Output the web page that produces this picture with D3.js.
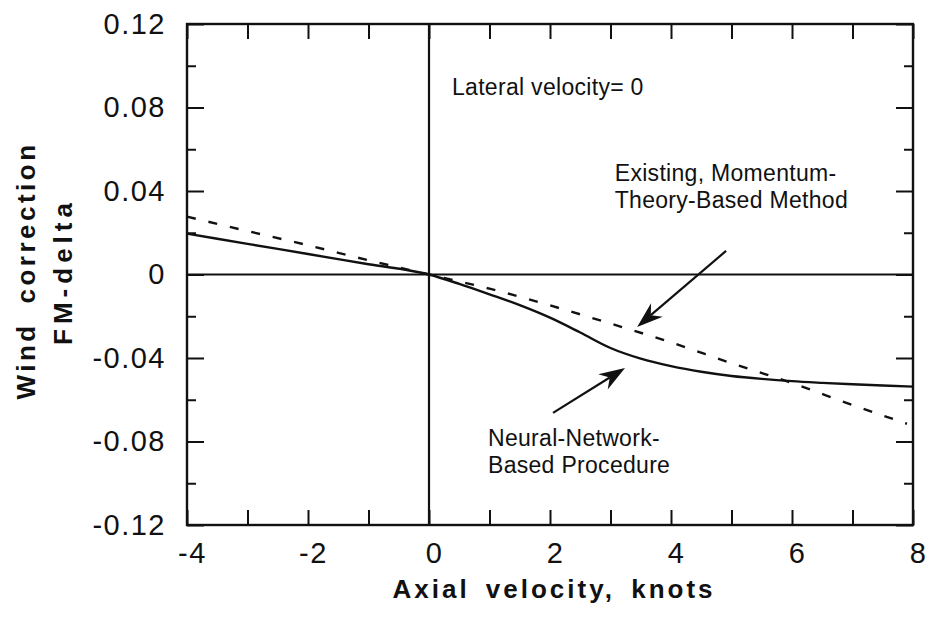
<!DOCTYPE html>
<html>
<head>
<meta charset="utf-8">
<script src="https://cdn.jsdelivr.net/npm/d3@7"></script>
<style>
  html, body { margin: 0; padding: 0; background: #fff; }
  svg { display: block; }
  text { font-family: "Liberation Sans", Arial, Helvetica, sans-serif; fill: #111; }
</style>
</head>
<body>
<svg id="chart" width="928" height="633"></svg>
<script>
// Axial velocity (knots) samples and FM-delta wind correction values
const neuralX = [-4, -3, -2, -1, 0, 0.5, 1, 1.5, 2, 2.5, 3, 3.5, 4, 4.5, 5, 5.5, 6, 6.5, 7, 7.5, 8];
const neuralY = [0.0196, 0.0147, 0.0098, 0.0049, 0, -0.0045, -0.0095, -0.0147, -0.0207, -0.0278, -0.0352, -0.0403, -0.0439, -0.0466, -0.0486, -0.05, -0.0511, -0.0519, -0.0526, -0.0532, -0.0537];

const momentumX = [-4, -3, -2, -1, 0, 1, 2, 3, 4, 5, 6, 7, 7.9];
const momentumY = [0.0277, 0.0208, 0.014, 0.0068, 0, -0.0068, -0.0148, -0.0235, -0.0325, -0.0425, -0.052, -0.0625, -0.0715];

// Axis ticks
const xTickLabels = [-4, -2, 0, 2, 4, 6, 8];
const xMinorTicks = [-3, -1, 1, 3, 5, 7];
const yTickLabels = [0.12, 0.08, 0.04, 0, -0.04, -0.08, -0.12];
const yMinorTicks = [0.1, 0.06, 0.02, -0.02, -0.06, -0.1];

// Annotations (data coordinates)
const notes = [
  { x: 0.38, y: 0.086, lines: ["Lateral velocity= 0"] },
  { x: 3.07, y: 0.0448, lines: ["Existing, Momentum-", "Theory-Based Method"] },
  { x: 0.975, y: -0.0822, lines: ["Neural-Network-", "Based Procedure"] }
];
const arrows = [
  { x1: 4.91, y1: 0.0113, x2: 3.44, y2: -0.0251 },
  { x1: 2.05, y1: -0.0663, x2: 3.24, y2: -0.0448 }
];

const svg = d3.select("#chart");
const plotL = 187, plotR = 913, plotT = 24, plotB = 525;

const x = d3.scaleLinear().domain([-4, 8]).range([plotL, plotR]);
const y = d3.scaleLinear().domain([-0.12, 0.12]).range([plotB, plotT]);

// Plain hyphen for negative numbers
const fmtX = v => String(v);
const fmtY = v => v === 0 ? "0" : (v < 0 ? "-" : "") + Math.abs(v).toFixed(2);

// Bottom axis: labelled ticks plus minor ticks, pointing inward
const axB = svg.append("g").attr("transform", `translate(0,${plotB})`)
  .call(d3.axisBottom(x).tickValues(xTickLabels).tickSize(-15).tickPadding(17).tickFormat(fmtX));
axB.selectAll(".tick text").attr("dx", 5);
svg.append("g").attr("transform", `translate(0,${plotB})`)
  .call(d3.axisBottom(x).tickValues(xMinorTicks).tickSize(-15).tickFormat(""));
// Top axis
svg.append("g").attr("transform", `translate(0,${plotT})`)
  .call(d3.axisTop(x).tickValues(xTickLabels.concat(xMinorTicks)).tickSize(-15).tickFormat(""));
// Left axis
svg.append("g").attr("transform", `translate(${plotL},0)`)
  .call(d3.axisLeft(y).tickValues(yTickLabels).tickSize(-17).tickPadding(21).tickFormat(fmtY));
svg.append("g").attr("transform", `translate(${plotL},0)`)
  .call(d3.axisLeft(y).tickValues(yMinorTicks).tickSize(-9).tickFormat(""));
// Right axis
svg.append("g").attr("transform", `translate(${plotR},0)`)
  .call(d3.axisRight(y).tickValues(yTickLabels).tickSize(-17).tickFormat(""));
svg.append("g").attr("transform", `translate(${plotR},0)`)
  .call(d3.axisRight(y).tickValues(yMinorTicks).tickSize(-9).tickFormat(""));

svg.selectAll(".domain").remove();
svg.selectAll(".tick line").attr("stroke", "#111").attr("stroke-width", 2);
svg.selectAll(".tick text")
  .style("font-size", "29px").style("letter-spacing", "1.5px").attr("fill", "#111");

// Frame
svg.append("rect")
  .attr("x", plotL).attr("y", plotT)
  .attr("width", plotR - plotL).attr("height", plotB - plotT)
  .attr("fill", "none").attr("stroke", "#111").attr("stroke-width", 2.4);

// Zero reference lines
svg.append("line")
  .attr("x1", x(0)).attr("x2", x(0)).attr("y1", plotT).attr("y2", plotB)
  .attr("stroke", "#111").attr("stroke-width", 2.2);
svg.append("line")
  .attr("x1", plotL).attr("x2", plotR).attr("y1", y(0)).attr("y2", y(0))
  .attr("stroke", "#111").attr("stroke-width", 2.2);

// Curves
const line = d3.line().x(d => x(d[0])).y(d => y(d[1])).curve(d3.curveMonotoneX);

svg.append("path")
  .datum(momentumX.map((v, i) => [v, momentumY[i]]))
  .attr("d", line)
  .attr("fill", "none").attr("stroke", "#111").attr("stroke-width", 2.4)
  .attr("stroke-dasharray", "9,13");

svg.append("path")
  .datum(neuralX.map((v, i) => [v, neuralY[i]]))
  .attr("d", line)
  .attr("fill", "none").attr("stroke", "#111").attr("stroke-width", 2.4);

// Annotation text
notes.forEach(n => {
  const t = svg.append("text")
    .attr("x", x(n.x)).attr("y", y(n.y))
    .style("font-size", "23px").style("letter-spacing", "0.3px");
  n.lines.forEach((s, i) => {
    t.append("tspan").attr("x", x(n.x)).attr("dy", i === 0 ? 0 : 27).text(s);
  });
});

// Arrows with filled, barbed heads
arrows.forEach(a => {
  const x1 = x(a.x1), y1 = y(a.y1), x2 = x(a.x2), y2 = y(a.y2);
  const ang = Math.atan2(y2 - y1, x2 - x1);
  const len = 26, half = 9, notch = 18;
  const bx = x2 - len * Math.cos(ang), by = y2 - len * Math.sin(ang);
  const nx = x2 - notch * Math.cos(ang), ny = y2 - notch * Math.sin(ang);
  const px = -Math.sin(ang), py = Math.cos(ang);
  svg.append("line")
    .attr("x1", x1).attr("y1", y1).attr("x2", nx).attr("y2", ny)
    .attr("stroke", "#111").attr("stroke-width", 2.2);
  svg.append("path")
    .attr("d", `M${x2},${y2}L${bx + half * px},${by + half * py}L${nx},${ny}L${bx - half * px},${by - half * py}Z`)
    .attr("fill", "#111");
});

// Axis titles
svg.append("text")
  .attr("x", (plotL + plotR) / 2 + 4).attr("y", 598)
  .attr("text-anchor", "middle")
  .style("font-size", "26px").style("font-weight", "bold")
  .style("letter-spacing", "3px").style("word-spacing", "6px")
  .text("Axial velocity, knots");

svg.append("text")
  .attr("transform", `translate(35,${(plotT + plotB) / 2 - 4}) rotate(-90)`)
  .attr("text-anchor", "middle")
  .style("font-size", "26px").style("font-weight", "bold")
  .style("letter-spacing", "3.5px").style("word-spacing", "8px")
  .text("Wind correction");

svg.append("text")
  .attr("transform", `translate(72,${(plotT + plotB) / 2 - 3}) rotate(-90)`)
  .attr("text-anchor", "middle")
  .style("font-size", "26px").style("font-weight", "bold")
  .style("letter-spacing", "5px")
  .text("FM-delta");
</script>
</body>
</html>
